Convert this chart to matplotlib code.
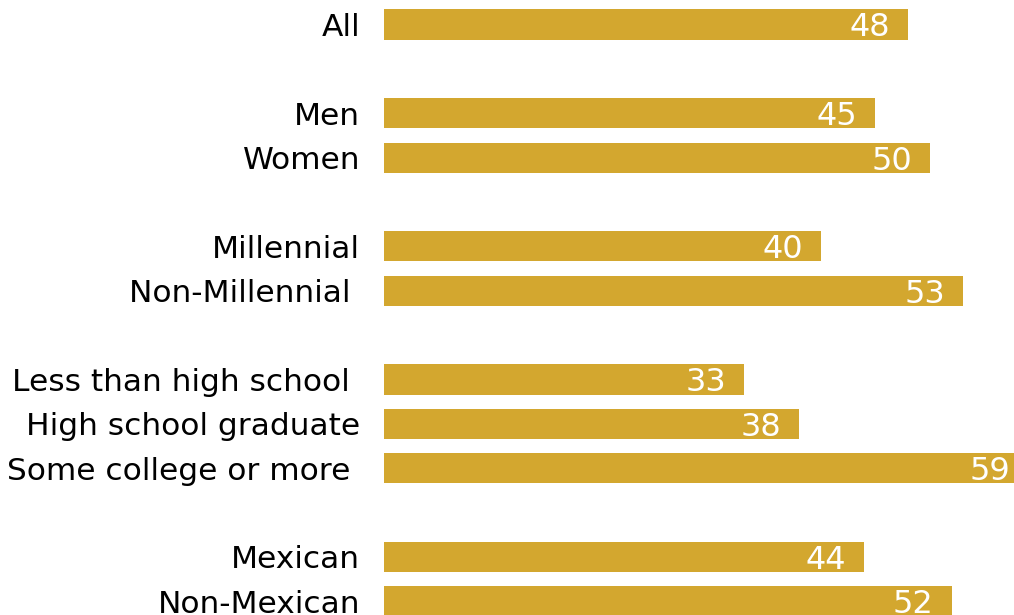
import matplotlib.pyplot as plt

# Share (%) by group; None marks the blank spacer rows between groups
labels = ['All', None, 'Men', 'Women', None, 'Millennial', 'Non-Millennial ',
          None, 'Less than high school ', 'High school graduate',
          'Some college or more ', None, 'Mexican', 'Non-Mexican']
values = [48, None, 45, 50, None, 40, 53, None, 33, 38, 59, None, 44, 52]

bar_color = '#D3A72F'

fig = plt.figure(figsize=(10.14, 6.15), dpi=100)
ax = fig.add_axes([384 / 1014, 0, 630 / 1014, 1])

rows = [i for i, v in enumerate(values) if v is not None]
vals = [values[i] for i in rows]

ax.barh(rows, vals, height=0.68, color=bar_color, linewidth=0)

for r, v in zip(rows, vals):
    ax.annotate(str(v), (v, r), xytext=(-18, 0), textcoords='offset pixels',
                ha='right', va='center_baseline', color='white',
                fontsize=23, family='DejaVu Sans', annotation_clip=False)
    ax.annotate(labels[r], (0, r), xytext=(-24, 0), textcoords='offset pixels',
                ha='right', va='center_baseline', color='black',
                fontsize=22.5, family='DejaVu Sans', annotation_clip=False)

ax.set_xlim(0, 630 / 10.92)
ax.set_ylim(13.31, -0.552)
ax.axis('off')

plt.savefig('out.png', dpi=100)
